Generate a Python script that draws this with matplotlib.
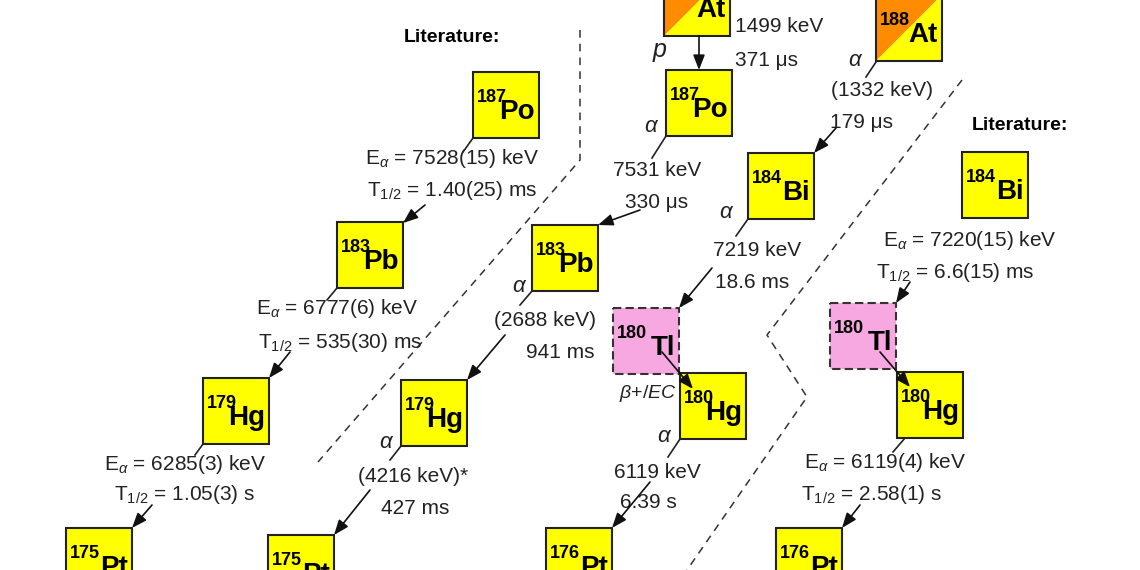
import matplotlib
matplotlib.use("Agg")
import matplotlib.pyplot as plt
from matplotlib.patches import Rectangle, Polygon

plt.rcParams['font.family'] = ['Liberation Sans', 'DejaVu Sans']
plt.rcParams['mathtext.fontset'] = 'custom'
plt.rcParams['mathtext.rm'] = 'Liberation Sans'
plt.rcParams['mathtext.it'] = 'Liberation Sans:italic'

# nuclide boxes: mass, symbol, kind
masses = [187, 183, 179, 175, 188, 187, 183, 179, 175, 188, 184, 180, 180, 176, 184, 180, 180, 176]
symbols = ['Po', 'Pb', 'Hg', 'Pt', 'At', 'Po', 'Pb', 'Hg', 'Pt', 'At', 'Bi', 'Tl', 'Hg', 'Pt', 'Bi', 'Tl', 'Hg', 'Pt']
kinds = ['y', 'y', 'y', 'y', 'o', 'y', 'y', 'y', 'y', 'o', 'y', 'p', 'y', 'y', 'y', 'p', 'y', 'y']
bx = [473, 337, 203, 66, 664, 666, 532, 401, 268, 876, 748, 613, 680, 546, 962, 830, 897, 776]
by = [72, 222, 378, 528, -30, 70, 225, 380, 535, -5, 153, 308, 373, 528, 152, 303, 372, 528]
S = 66

fig = plt.figure(figsize=(11.4, 5.7), dpi=100)
ax = fig.add_axes([0, 0, 1, 1])
ax.set_xlim(0, 1140)
ax.set_ylim(570, 0)
ax.axis('off')

YEL, ORA, PINK = '#ffff00', '#ff8c00', '#f7a8e0'
for m, s, k, x, y in zip(masses, symbols, kinds, bx, by):
    if k == 'o':
        ax.add_patch(Polygon([(x, y), (x + S, y), (x, y + S)], closed=True, fc=ORA, ec='none', zorder=2))
        ax.add_patch(Polygon([(x + S, y), (x + S, y + S), (x, y + S)], closed=True, fc=YEL, ec='none', zorder=2))
        ax.add_patch(Rectangle((x, y), S, S, fc='none', ec='#222', lw=1.5, zorder=3))
    elif k == 'p':
        ax.add_patch(Rectangle((x, y), S, S, fc=PINK, ec='#333', lw=1.5, ls=(0, (4, 2)), zorder=2))
    else:
        ax.add_patch(Rectangle((x, y), S, S, fc=YEL, ec='#222', lw=1.5, zorder=2))
    ax.text(x + S - 4, y + 47, s, fontsize=20, fontweight='bold', ha='right', va='baseline', zorder=4)
    ax.text(x + 4, y + 30, str(m), fontsize=13, fontweight='bold', ha='left', va='baseline', zorder=4)

def t(x, y, s, ha='center', fs=15, **kw):
    ax.text(x, y, s, fontsize=fs, ha=ha, va='center', color='#222', zorder=5, **kw)

def line(x0, y0, x1, y1):
    ax.plot([x0, x1], [y0, y1], color='#222', lw=1.2, zorder=1)

def arrow(x0, y0, x1, y1):
    ax.annotate('', xy=(x1, y1), xytext=(x0, y0),
                arrowprops=dict(arrowstyle='-|>,head_length=0.9,head_width=0.35', color='#111', lw=1.2,
                                shrinkA=0, shrinkB=0), zorder=5)

# separators
ax.plot([580, 580, 318], [30, 160, 462], color='#333', lw=1.1, ls=(0, (5, 4)))
ax.plot([962, 767, 807, 687], [80, 335, 397, 570], color='#333', lw=1.1, ls=(0, (5, 4)))

# Literature (left)
ax.text(452, 38, 'Literature:', fontsize=14, fontweight='bold', ha='center', va='center')
line(473, 138, 463, 152)
t(452, 158, r'E$_\alpha$ = 7528(15) keV')
t(452, 190, r'T$_{1/2}$ = 1.40(25) ms')
arrow(425, 205, 403, 223)
line(337, 288, 327, 300)
t(337, 308, r'E$_\alpha$ = 6777(6) keV')
t(340, 342, r'T$_{1/2}$ = 535(30) ms')
arrow(290, 352, 269, 378)
line(203, 444, 195, 455)
t(185, 465, r'E$_\alpha$ = 6285(3) keV')
t(185, 495, r'T$_{1/2}$ = 1.05(3) s')
arrow(152, 505, 132, 528)

# new data (middle)
t(660, 50, 'p', fs=18, style='italic')
arrow(699, 36, 699, 70)
t(735, 27, '1499 keV', ha='left')
t(735, 60, '371 μs', ha='left')
t(652, 127, r'$\alpha$', fs=16)
line(666, 136, 652, 158)
t(657, 170, '7531 keV')
t(657, 203, '330 μs')
arrow(640, 210, 598, 225)
t(520, 287, r'$\alpha$', fs=16)
line(532, 291, 520, 305)
t(545, 320, '(2688 keV)')
t(560, 352, '941 ms')
arrow(505, 335, 467, 380)
t(387, 443, r'$\alpha$', fs=16)
line(401, 446, 390, 460)
t(413, 477, '(4216 keV)*')
t(415, 508, '427 ms')
arrow(370, 490, 334, 535)

t(856, 60, r'$\alpha$', fs=16)
line(876, 62, 866, 77)
t(882, 90, '(1332 keV)')
t(862, 122, '179 μs')
arrow(836, 128, 814, 153)
t(727, 212, r'$\alpha$', fs=16)
line(748, 219, 736, 236)
t(757, 250, '7219 keV')
t(752, 283, '18.6 ms')
arrow(712, 268, 679, 308)
arrow(662, 352, 693, 389)
t(648, 394, r'$\beta$+/$\it{EC}$', fs=14)
t(665, 436, r'$\alpha$', fs=16)
line(680, 439, 668, 457)
t(657, 472, '6119 keV')
t(648, 503, '6.39 s')
arrow(650, 482, 612, 528)

# Literature (right)
ax.text(1020, 125, 'Literature:', fontsize=14, fontweight='bold', ha='center', va='center')
t(970, 240, r'E$_\alpha$ = 7220(15) keV')
t(955, 272, r'T$_{1/2}$ = 6.6(15) ms')
arrow(910, 282, 896, 303)
arrow(880, 352, 910, 387)
line(905, 438, 893, 452)
t(885, 463, r'E$_\alpha$ = 6119(4) keV')
t(872, 494, r'T$_{1/2}$ = 2.58(1) s')
arrow(860, 505, 842, 528)

fig.savefig('out.png', dpi=100, facecolor='white')
